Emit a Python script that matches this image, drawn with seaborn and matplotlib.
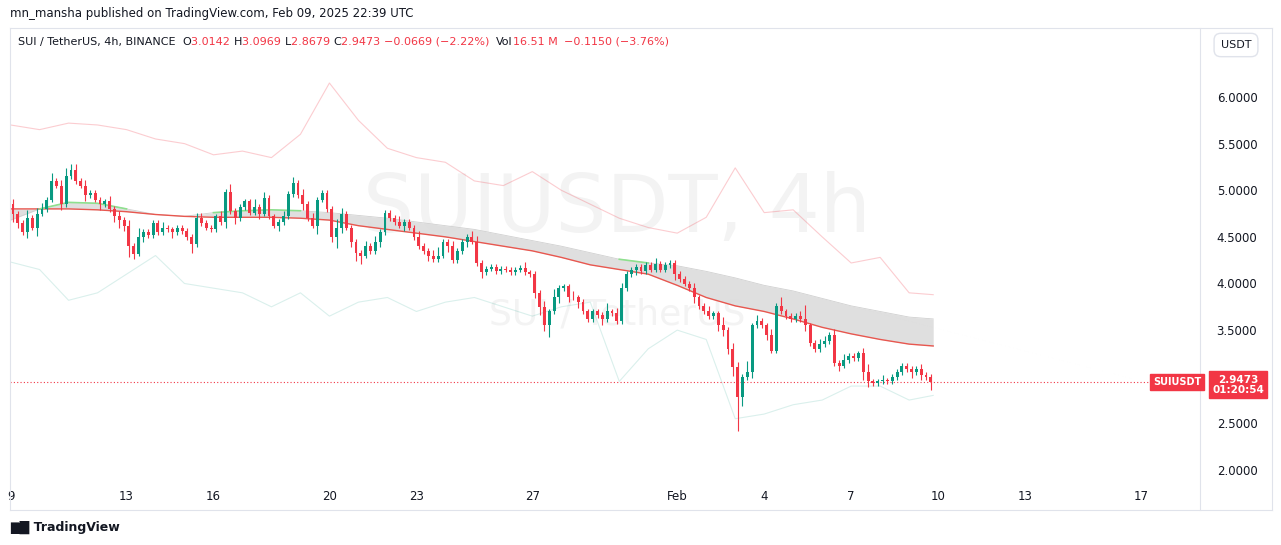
import numpy as np
import pandas as pd
import matplotlib
matplotlib.use("Agg")
import matplotlib.pyplot as plt
import seaborn as sns

# ---- data ----
# 4h closes, 6 per day from Jan 9 to Feb 9
closes = [
    4.75, 4.65, 4.55, 4.70, 4.60, 4.75,   # Jan 9
    4.80, 4.90, 5.10, 5.05, 4.85, 5.15,   # Jan 10
    5.22, 5.10, 5.05, 4.95, 4.97, 4.90,   # Jan 11
    4.85, 4.88, 4.80, 4.72, 4.68, 4.62,   # Jan 12
    4.40, 4.32, 4.50, 4.55, 4.52, 4.65,   # Jan 13
    4.55, 4.60, 4.58, 4.55, 4.60, 4.56,   # Jan 14
    4.50, 4.42, 4.70, 4.65, 4.60, 4.58,   # Jan 15
    4.72, 4.66, 4.98, 4.78, 4.70, 4.82,   # Jan 16
    4.88, 4.76, 4.82, 4.75, 4.92, 4.72,   # Jan 17
    4.62, 4.66, 4.72, 4.96, 5.08, 4.95,   # Jan 18
    4.85, 4.70, 4.62, 4.90, 4.97, 4.80,   # Jan 19
    4.50, 4.60, 4.75, 4.60, 4.45, 4.33,   # Jan 20
    4.30, 4.40, 4.35, 4.45, 4.55, 4.76,   # Jan 21
    4.70, 4.66, 4.62, 4.66, 4.60, 4.50,   # Jan 22
    4.40, 4.35, 4.30, 4.26, 4.30, 4.45,   # Jan 23
    4.40, 4.25, 4.35, 4.45, 4.50, 4.45,   # Jan 24
    4.22, 4.12, 4.16, 4.18, 4.13, 4.16,   # Jan 25
    4.15, 4.12, 4.15, 4.17, 4.12, 4.10,   # Jan 26
    3.90, 3.75, 3.55, 3.70, 3.85, 3.95,   # Jan 27
    3.97, 3.86, 3.85, 3.80, 3.70, 3.62,   # Jan 28
    3.70, 3.66, 3.62, 3.70, 3.68, 3.60,   # Jan 29
    3.95, 4.10, 4.15, 4.18, 4.13, 4.20,   # Jan 30
    4.15, 4.21, 4.15, 4.20, 4.22, 4.10,   # Jan 31
    4.05, 4.00, 3.95, 3.85, 3.76, 3.70,   # Feb 1
    3.65, 3.68, 3.55, 3.50, 3.30, 3.10,   # Feb 2
    2.78, 3.00, 3.05, 3.55, 3.60, 3.55,   # Feb 3
    3.45, 3.28, 3.76, 3.70, 3.65, 3.62,   # Feb 4
    3.65, 3.62, 3.55, 3.36, 3.30, 3.35,   # Feb 5
    3.38, 3.45, 3.15, 3.12, 3.18, 3.22,   # Feb 6
    3.20, 3.25, 3.05, 2.95, 2.93, 2.95,   # Feb 7
    2.96, 2.95, 3.00, 3.05, 3.12, 3.08,   # Feb 8
    3.05, 3.08, 3.02, 3.00, 2.9473,       # Feb 9
]
first_open = 4.85
# wick lengths per candle, in units of 0.03 (base-36 digits)
upper_wick = ("211312" "213123" "221211" "112121" "213111" "121111"
              "112211" "121311" "113121" "112121" "212111" "132111"
              "121211" "112111" "211231" "121112" "211111" "111121"
              "112131" "112111" "111312" "211111" "121111" "111211"
              "211312" "214121" "121311" "125112" "212121" "112311"
              "211111" "11211")
lower_wick = ("321213" "111121" "111211" "211232" "421211" "111211"
              "131111" "112121" "111211" "121111" "211311" "242123"
              "311121" "111211" "112111" "211121" "121111" "111111"
              "232412" "121211" "112111" "111211" "111112" "111211"
              "112223" "c31211" "211111" "112111" "111211" "113211"
              "111111" "21213")

# daily samples (Jan 9 .. Feb 9, plus last bar)
band_days = list(range(32)) + [31.83]
upper_band = [5.70, 5.65, 5.72, 5.70, 5.65, 5.55, 5.50, 5.38, 5.42, 5.35,
              5.60, 6.15, 5.75, 5.45, 5.35, 5.30, 5.10, 5.05, 5.20, 5.00,
              4.85, 4.70, 4.60, 4.54, 4.71, 5.24, 4.76, 4.79, 4.50, 4.22,
              4.28, 3.90, 3.88]
lower_band = [4.23, 4.15, 3.82, 3.90, 4.10, 4.30, 4.00, 3.95, 3.90, 3.75,
              3.90, 3.65, 3.80, 3.85, 3.70, 3.80, 3.85, 3.75, 3.65, 3.75,
              3.80, 2.95, 3.30, 3.50, 3.40, 2.55, 2.60, 2.70, 2.75, 2.90,
              2.90, 2.75, 2.80]
ma_line = [4.80, 4.80, 4.80, 4.79, 4.77, 4.74, 4.72, 4.71, 4.71, 4.71,
           4.70, 4.68, 4.62, 4.58, 4.54, 4.50, 4.45, 4.40, 4.35, 4.28,
           4.20, 4.15, 4.10, 3.98, 3.85, 3.76, 3.70, 3.62, 3.53, 3.46,
           3.40, 3.35, 3.33]
cloud_line = [4.68, 4.80, 4.87, 4.86, 4.80, 4.74, 4.72, 4.76, 4.78, 4.79,
              4.78, 4.76, 4.73, 4.70, 4.66, 4.62, 4.58, 4.52, 4.46, 4.40,
              4.33, 4.26, 4.22, 4.19, 4.13, 4.06, 3.98, 3.92, 3.84, 3.76,
              3.70, 3.64, 3.62]
# days where the cloud edge shows green
green_days = [1, 2, 3, 4, 7, 8, 9, 10, 21, 22]

tick_days = [0, 4, 7, 11, 14, 18, 23, 26, 29, 32, 35, 39]
tick_labels = ["9", "13", "16", "20", "23", "27", "Feb", "4", "7", "10", "13", "17"]
price_ticks = [2.0, 2.5, 3.0, 3.5, 4.0, 4.5, 5.0, 5.5, 6.0]

# ---- figure ----
UP, DN = "#089981", "#F23645"
W, H = 1281, 545
fig = plt.figure(figsize=(W / 100, H / 100), dpi=100)
fig.patch.set_facecolor("white")

ax_left, ax_right, ax_top, ax_bot = 10, 1200, 28, 482
ax = fig.add_axes([ax_left / W, 1 - ax_bot / H, (ax_right - ax_left) / W, (ax_bot - ax_top) / H])
px_per_unit = 93.25
ax.set_ylim(6 - (ax_bot - 97) / px_per_unit, 6 + (97 - ax_top) / px_per_unit)
ax.set_xlim(-0.02, (ax_right - ax_left) / 29.0)

n = len(closes)
x = np.arange(n) / 6 + 1 / 12
opens = [first_open] + closes[:-1]
uw = [int(c, 36) * 0.03 for c in upper_wick]
lw = [int(c, 36) * 0.03 for c in lower_wick]
highs = [max(o, c) + u for o, c, u in zip(opens, closes, uw)]
lows = [min(o, c) - l for o, c, l in zip(opens, closes, lw)]
cols = [UP if c >= o else DN for o, c in zip(opens, closes)]

# bands
bands = pd.DataFrame({"day": band_days, "upper": upper_band, "lower": lower_band,
                      "ma": ma_line, "cloud": cloud_line})
ma_a = np.array(ma_line)
cl_a = np.array(cloud_line)
ax.fill_between(band_days, ma_a, cl_a, color="#dcdcdc", alpha=0.9, lw=0, zorder=1)
ax.plot(band_days, cl_a, color="#d0d0d0", lw=0.6, zorder=1)
sns.lineplot(data=bands, x="day", y="upper", ax=ax, color="#F23645", alpha=0.25, lw=0.8, zorder=2)
sns.lineplot(data=bands, x="day", y="lower", ax=ax, color="#089981", alpha=0.15, lw=0.8, zorder=2)
sns.lineplot(data=bands, x="day", y="ma", ax=ax, color="#E8574F", lw=1.0, zorder=3)
green_part = np.where(np.isin(band_days, green_days), cl_a, np.nan)
ax.plot(band_days, green_part, color="#8ee08e", lw=1.2, zorder=3)

# candles
ax.vlines(x, lows, highs, colors=cols, lw=0.8, zorder=4)
body_h = [max(abs(c - o), 0.008) for o, c in zip(opens, closes)]
body_b = [min(o, c) for o, c in zip(opens, closes)]
ax.bar(x, body_h, bottom=body_b, width=0.6 / 6, color=cols, zorder=5, lw=0)

# last price line
last = closes[-1]
ax.axhline(last, color=DN, ls=(0, (1, 2)), lw=0.8, zorder=3)

# watermark
ax.text(0.51, 0.6, "SUIUSDT, 4h", transform=ax.transAxes, ha="center", va="center",
        fontsize=58, color="#f3f3f3", zorder=0, family="DejaVu Sans")
ax.text(0.51, 0.37, "SUI / TetherUS", transform=ax.transAxes, ha="center", va="center",
        fontsize=26, color="#f3f3f3", zorder=0, family="DejaVu Sans")

ax.set_xticks(tick_days)
ax.set_xticklabels(tick_labels)
ax.yaxis.tick_right()
ax.set_yticks(price_ticks)
ax.set_yticklabels([f"{p:.4f}" for p in price_ticks])
ax.tick_params(axis="both", length=0, labelsize=8.5, colors="#131722")
ax.tick_params(axis="y", pad=12)
ax.tick_params(axis="x", pad=6)
ax.set_xlabel("")
ax.set_ylabel("")
for s in ax.spines.values():
    s.set_visible(False)
ax.grid(False)

# panel borders
for xx in (10, 1200, 1272):
    fig.add_artist(plt.Line2D([xx / W] * 2, [1 - 28 / H, 1 - 510 / H], color="#e0e3eb", lw=0.8))
fig.add_artist(plt.Line2D([10 / W, 1272 / W], [1 - 510 / H] * 2, color="#e0e3eb", lw=0.8))
fig.add_artist(plt.Line2D([10 / W, 1272 / W], [1 - 28 / H] * 2, color="#e0e3eb", lw=0.8))

# header
fig.text(10 / W, 1 - 14 / H, "mn_mansha published on TradingView.com, Feb 09, 2025 22:39 UTC",
         fontsize=8.5, va="center", color="#131722")
parts = [("SUI / TetherUS, 4h, BINANCE  ", "#131722"), ("O", "#131722"), ("3.0142 ", DN),
         ("H", "#131722"), ("3.0969 ", DN), ("L", "#131722"), ("2.8679 ", DN),
         ("C", "#131722"), ("2.9473 ", DN), ("\u22120.0669 (\u22122.22%)  ", DN),
         ("Vol", "#131722"), ("16.51 M  ", DN), ("\u22120.1150 (\u22123.76%)", DN)]
xpos = 18
fig.canvas.draw()
r = fig.canvas.get_renderer()
for txt, c in parts:
    t = fig.text(xpos / W, 1 - 42 / H, txt, fontsize=8, va="center", color=c)
    xpos += t.get_window_extent(r).width

# USDT box
fig.text(1236 / W, 1 - 45 / H, "USDT", fontsize=8, ha="center", va="center", color="#131722",
         bbox=dict(boxstyle="round,pad=0.6", fc="white", ec="#e0e3eb"))

# last price labels
ly = 1 - (97 + (6 - last) * px_per_unit) / H
fig.text(1177 / W, ly, "SUIUSDT", fontsize=7, ha="center", va="center", color="white",
         weight="bold", bbox=dict(boxstyle="square,pad=0.3", fc=DN, ec=DN))
fig.text(1238 / W, ly - 0.006, "2.9473\n01:20:54", fontsize=7.5, ha="center", va="center",
         color="white", weight="bold", linespacing=1.1,
         bbox=dict(boxstyle="square,pad=0.3", fc=DN, ec=DN))

# footer logo
fig.text(10 / W, 1 - 527 / H, "\u2587\u2588 TradingView", fontsize=9, va="center",
         color="#131722", weight="bold")

fig.savefig("out.png", dpi=100, facecolor="white")
